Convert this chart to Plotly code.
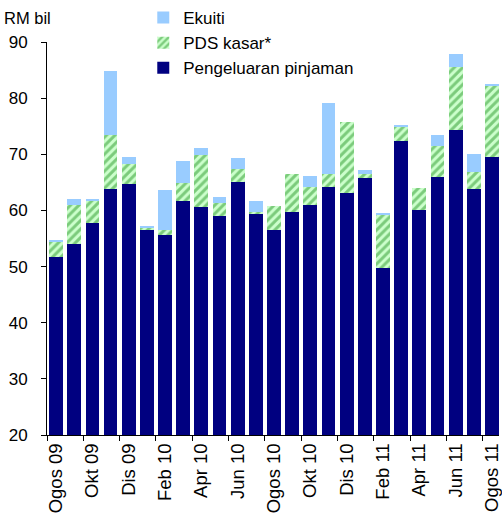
import plotly.graph_objects as go

months = ["Ogos 09", "Sep 09", "Okt 09", "Nov 09", "Dis 09", "Jan 10", "Feb 10", "Mac 10",
          "Apr 10", "Mei 10", "Jun 10", "Jul 10", "Ogos 10", "Sep 10", "Okt 10", "Nov 10",
          "Dis 10", "Jan 11", "Feb 11", "Mac 11", "Apr 11", "Mei 11", "Jun 11", "Jul 11", "Ogos 11"]

pinjaman = [51.7, 54.0, 57.8, 63.8, 64.7, 56.5, 55.6, 61.7, 60.6, 59.0, 65.0, 59.4, 56.5,
            59.7, 61.0, 64.1, 63.1, 65.7, 49.8, 72.3, 60.1, 65.9, 74.3, 63.8, 69.5]
pds = [2.7, 7.0, 3.9, 9.6, 3.5, 0.5, 0.9, 3.2, 9.2, 2.4, 2.3, 0.3, 4.3,
       6.8, 3.2, 2.4, 12.6, 0.8, 9.4, 2.7, 3.9, 5.5, 11.3, 3.0, 12.7]
ekuiti = [0.35, 1.0, 0.3, 11.5, 1.4, 0.1, 7.1, 3.9, 1.4, 1.0, 2.0, 2.0, 0.0,
          0.0, 1.9, 12.7, 0.0, 0.7, 0.3, 0.3, 0.0, 2.0, 2.3, 3.2, 0.4]

label_idx = list(range(0, len(months), 2))
label_text = [months[i] for i in label_idx]
boundary_ticks = [i - 0.5 for i in label_idx]

x = list(range(len(months)))
font = "Liberation Sans, Arial, sans-serif"

fig = go.Figure()
fig.add_trace(go.Bar(x=x, y=pinjaman, name="Pengeluaran pinjaman", legendrank=3,
                     marker=dict(color="#000080", line=dict(width=0)), legendgroup="c"))
fig.add_trace(go.Bar(x=x, y=pds, name="PDS kasar*", legendrank=2,
                     marker=dict(color="#CCFFCC", line=dict(width=0),
                                 pattern=dict(shape="/", fgcolor="#2A972A", bgcolor="#CCFFCC",
                                              size=6, solidity=0.5)), legendgroup="b"))
fig.add_trace(go.Bar(x=x, y=ekuiti, name="Ekuiti", legendrank=1,
                     marker=dict(color="#99CCFF", line=dict(width=0)), legendgroup="a"))

fig.update_layout(
    barmode="stack",
    bargap=0.24,
    width=502, height=527,
    margin=dict(l=47, r=0, t=40, b=92),
    paper_bgcolor="white", plot_bgcolor="white",
    font=dict(family=font, size=16, color="black"),
    showlegend=True,
    legend=dict(x=0.213, y=1.107, xanchor="left", yanchor="top",
                traceorder="grouped", tracegroupgap=0,
                font=dict(size=17), bgcolor="rgba(0,0,0,0)",
                itemwidth=30),
    xaxis=dict(range=[-0.5, 24.39], tickmode="array", tickvals=label_idx, ticktext=label_text,
               tickangle=-90, ticks="", showline=True, linecolor="black", linewidth=1,
               showgrid=False, zeroline=False, tickfont=dict(size=18.5),
               ticklabeloverflow="allow",
               minor=dict(tickmode="array", tickvals=boundary_ticks, ticks="outside",
                          ticklen=5, tickcolor="black", showgrid=False)),
    yaxis=dict(range=[20, 90], dtick=10, ticks="outside", ticklen=5, tickcolor="black",
               showline=True, linecolor="black", linewidth=1, showgrid=False, zeroline=False,
               tickfont=dict(size=17), ticklabelstandoff=10),
    annotations=[dict(text="RM bil", xref="paper", yref="paper", x=-0.099, y=1.09,
                      xanchor="left", yanchor="top", showarrow=False, font=dict(size=16.5))],
)

fig.write_html("out.html", config={"displayModeBar": False},
               post_script="document.body.style.margin='0';document.body.style.padding='0';")
